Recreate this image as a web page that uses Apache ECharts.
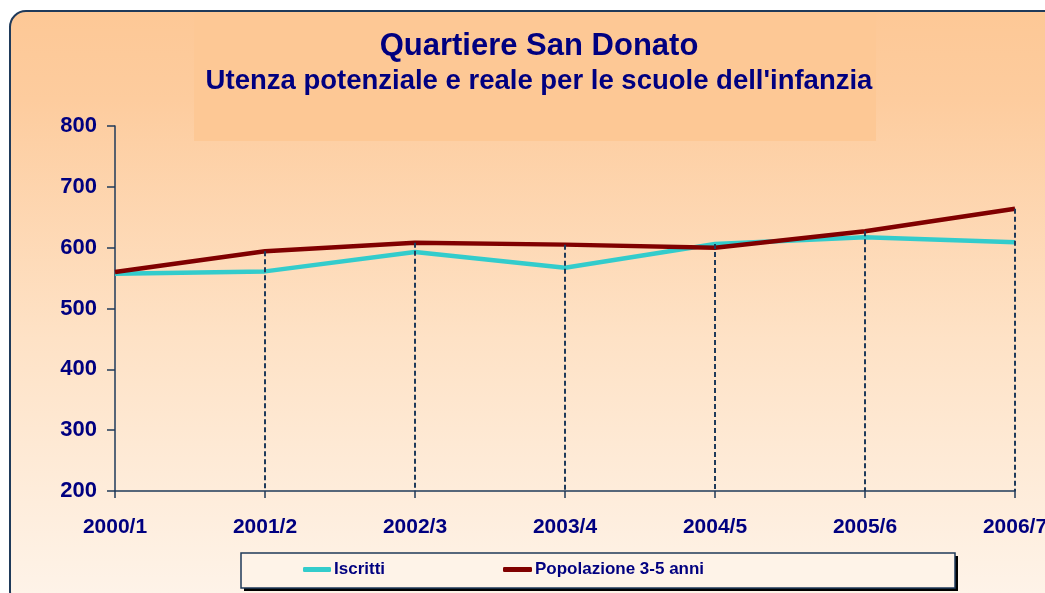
<!DOCTYPE html>
<html>
<head>
<meta charset="utf-8">
<script src="https://cdn.jsdelivr.net/npm/echarts@6/dist/echarts.min.js"></script>
<style>
html,body{margin:0;padding:0;background:#fff;overflow:hidden;}
#chart{width:1045px;height:593px;}
</style>
</head>
<body>
<div id="chart"></div>
<script>
var categories = ['2000/1','2001/2','2002/3','2003/4','2004/5','2005/6','2006/7'];
var iscritti = [557, 561, 593, 567, 606, 617, 609];
var popolazione = [560, 594, 608, 605, 600, 627, 664];
var yTicks = [200, 300, 400, 500, 600, 700, 800];
var titleText = 'Quartiere San Donato';
var subtitleText = "Utenza potenziale e reale per le scuole dell'infanzia";
var seriesNames = ['Iscritti', 'Popolazione 3-5 anni'];

var navy = '#000080';
var axisCol = '#1F3A5A';
var font = '"Liberation Sans", Arial, sans-serif';

var dropData = [];
categories.forEach(function (c, i) {
  if (i === 0) return;
  dropData.push([{coord: [c, Math.max(iscritti[i], popolazione[i])]}, {coord: [c, yTicks[0]]}]);
});

var chart = echarts.init(document.getElementById('chart'), null, {renderer: 'canvas', width: 1045, height: 593});
chart.setOption({
  animation: false,
  backgroundColor: '#ffffff',
  textStyle: {fontFamily: font},
  graphic: [
    {type: 'rect', z: -10, shape: {x: 10, y: 11, width: 1100, height: 596, r: 16},
     style: {fill: new echarts.graphic.LinearGradient(0, 0, 0, 1, [
       {offset: 0, color: '#FDC896'}, {offset: 0.15, color: '#FDCC9E'},
       {offset: 0.55, color: '#FEE2C6'}, {offset: 1, color: '#FEF4EA'}]),
       stroke: axisCol, lineWidth: 2}},
    {type: 'rect', z: -9, shape: {x: 194, y: 12, width: 682, height: 129},
     style: {fill: '#FDC895'}},
    {type: 'rect', z: -8, shape: {x: 244, y: 556, width: 714, height: 35},
     style: {fill: '#000000'}},
    {type: 'rect', z: -7, shape: {x: 241, y: 553, width: 714, height: 35},
     style: {fill: '#FEF3E8', stroke: axisCol, lineWidth: 1.5}}
  ],
  title: [
    {text: titleText, left: 534, top: 26, textAlign: 'center',
     textStyle: {fontFamily: font, fontSize: 31, fontWeight: 'bold', color: navy}},
    {text: subtitleText, left: 534, top: 62, textAlign: 'center',
     textStyle: {fontFamily: font, fontSize: 27.5, fontWeight: 'bold', color: navy}}
  ],
  legend: [
    {data: [seriesNames[0]], left: 303, top: 561, padding: 0, itemWidth: 28, itemHeight: 5, icon: 'roundRect',
     itemGap: 4, textStyle: {fontFamily: font, fontSize: 17, fontWeight: 'bold', color: navy, padding: [0,0,0,-2]}},
    {data: [seriesNames[1]], left: 503, top: 561, padding: 0, itemWidth: 29, itemHeight: 5, icon: 'roundRect',
     itemGap: 4, textStyle: {fontFamily: font, fontSize: 17, fontWeight: 'bold', color: navy, padding: [0,0,0,-2]}}
  ],
  grid: {left: 115, right: 30, top: 126, bottom: 102, containLabel: false, outerBoundsMode: 'none'},
  xAxis: {
    type: 'category', data: categories, boundaryGap: false,
    axisLine: {show: true, lineStyle: {color: axisCol, width: 1.5}},
    axisTick: {show: true, inside: false, length: 7, alignWithLabel: true, lineStyle: {color: axisCol, width: 1.5}},
    axisLabel: {margin: 26, fontFamily: font, fontSize: 21, fontWeight: 'bold', color: navy, interval: 0},
    splitLine: {show: false}
  },
  yAxis: {
    type: 'value', min: 200, max: 800, interval: 100,
    axisLine: {show: true, lineStyle: {color: axisCol, width: 1.5}},
    axisTick: {show: true, length: 8, lineStyle: {color: axisCol, width: 1.5}},
    axisLabel: {margin: 18, fontFamily: font, fontSize: 22, fontWeight: 'bold', color: navy},
    splitLine: {show: false}
  },
  series: [
    {name: seriesNames[0], type: 'line', data: iscritti, symbol: 'none', z: 3,
     lineStyle: {color: '#33CCCC', width: 4.5}, itemStyle: {color: '#33CCCC'}},
    {name: seriesNames[1], type: 'line', data: popolazione, symbol: 'none', z: 4,
     lineStyle: {color: '#800000', width: 4.5}, itemStyle: {color: '#800000'},
     markLine: {silent: true, symbol: 'none', label: {show: false}, z: 5,
       lineStyle: {color: axisCol, width: 2, type: [5, 3]}, data: dropData}}
  ]
});
</script>
</body>
</html>
